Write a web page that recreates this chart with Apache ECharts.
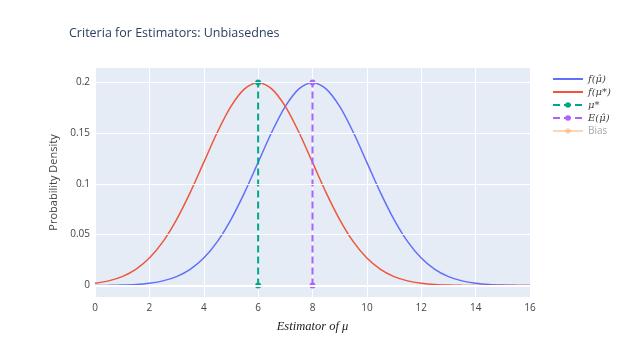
<!DOCTYPE html>
<html><head><meta charset="utf-8">
<script src="https://cdn.jsdelivr.net/npm/echarts@6/dist/echarts.min.js"></script>
<style>html,body{margin:0;padding:0;background:#fff}#c{width:640px;height:360px}</style>
</head><body><div id="c"></div>
<script>
// x positions of the estimator
const xs = [0,0.5,1,1.5,2,2.5,3,3.5,4,4.5,5,5.5,6,6.5,7,7.5,8,8.5,9,9.5,10,10.5,11,11.5,12,12.5,13,13.5,14,14.5,15,15.5,16];
// density of mu-hat (centered at 8)
const fMuHat = [0.0000669,0.000176,0.000436,0.00101,0.00222,0.00455,0.00876,0.0159,0.0270,0.0431,0.0648,0.0913,0.1210,0.1506,0.1760,0.1933,0.1995,0.1933,0.1760,0.1506,0.1210,0.0913,0.0648,0.0431,0.0270,0.0159,0.00876,0.00455,0.00222,0.00101,0.000436,0.000176,0.0000669];
// density of mu-star (centered at 6)
const fMuStar = [0.00222,0.00455,0.00876,0.0159,0.0270,0.0431,0.0648,0.0913,0.1210,0.1506,0.1760,0.1933,0.1995,0.1933,0.1760,0.1506,0.1210,0.0913,0.0648,0.0431,0.0270,0.0159,0.00876,0.00455,0.00222,0.00101,0.000436,0.000176,0.0000669,0.0000238,0.000008,0.0000026,0.0000007];
const muStarX = [6, 6];
const muStarY = [0, 0.1995];
const eMuHatX = [8, 8];
const eMuHatY = [0, 0.1995];
const yTicks = [0, 0.05, 0.1, 0.15, 0.2];

const zip = (a, b) => a.map((v, i) => [v, b[i]]);
const chart = echarts.init(document.getElementById('c'));
const mathFont = {fontFamily: 'DejaVu Serif', fontStyle: 'italic', fontSize: 10, color: '#444', lineHeight: 12};
chart.setOption({
  animation: false,
  backgroundColor: '#fff',
  title: {text: 'Criteria for Estimators: Unbiasednes', left: 64, top: 22,
    textStyle: {fontFamily: 'Open Sans', fontSize: 12.5, fontWeight: 'normal', color: '#2a3f5f'}},
  grid: {left: 95, right: 110, top: 68, bottom: 63, show: true, backgroundColor: '#E5ECF6', borderWidth: 0},
  legend: {orient: 'vertical', left: 547, top: 68, itemWidth: 30, itemHeight: 7, itemGap: 1,
    textStyle: {lineHeight: 12},
    data: [
      {name: 'f(μ̂)', textStyle: mathFont, itemStyle: {opacity: 0}},
      {name: 'f(μ*)', textStyle: mathFont, itemStyle: {opacity: 0}},
      {name: 'μ*', textStyle: mathFont},
      {name: 'E(μ̂)', textStyle: mathFont},
      {name: 'Bias', textStyle: {fontFamily: 'Open Sans', fontSize: 10, color: '#a8a8a8', lineHeight: 12}, itemStyle: {opacity: 0.45}, lineStyle: {opacity: 0.45}}
    ]},
  xAxis: {type: 'value', min: 0, max: 16, interval: 2,
    name: 'Estimator of μ', nameLocation: 'middle', nameGap: 23,
    nameTextStyle: {fontFamily: 'Liberation Serif', fontStyle: 'italic', fontSize: 12.5, color: '#222'},
    axisLine: {show: false}, axisTick: {show: false},
    axisLabel: {fontFamily: 'Open Sans', fontSize: 10, color: '#444', margin: 6},
    splitLine: {show: true, lineStyle: {color: '#fff', width: 1}}},
  yAxis: {type: 'value', min: -0.0113, max: 0.2138,
    name: 'Probability Density', nameLocation: 'middle', nameGap: 31,
    nameTextStyle: {fontFamily: 'Open Sans', fontSize: 11, color: '#444'},
    axisLine: {show: false},
    axisTick: {show: false, customValues: yTicks},
    axisLabel: {customValues: yTicks, fontFamily: 'Open Sans', fontSize: 10, color: '#444', margin: 5},
    splitLine: {show: false}},
  series: [
    {name: 'gridY', type: 'line', data: [], silent: true,
      markLine: {silent: true, symbol: 'none', label: {show: false},
        data: yTicks.map(v => ({yAxis: v, lineStyle: {color: '#fff', width: v === 0 ? 2 : 1, type: 'solid'}}))}},
    {name: 'f(μ̂)', type: 'line', data: zip(xs, fMuHat), smooth: 0.3, symbol: 'none', color: '#636efa', lineStyle: {width: 1.5}},
    {name: 'f(μ*)', type: 'line', data: zip(xs, fMuStar), smooth: 0.3, symbol: 'none', color: '#EF553B', lineStyle: {width: 1.5}},
    {name: 'μ*', type: 'line', data: zip(muStarX, muStarY), symbol: 'circle', symbolSize: 6, color: '#00a88a', lineStyle: {width: 2, type: [7, 4]}},
    {name: 'E(μ̂)', type: 'line', data: zip(eMuHatX, eMuHatY), symbol: 'circle', symbolSize: 6, color: '#ab63fa', lineStyle: {width: 2, type: [7, 4]}},
    {name: 'Bias', type: 'line', data: [], symbol: 'circle', symbolSize: 6, color: '#FFA15A', lineStyle: {width: 2}}
  ]
});
</script></body></html>
